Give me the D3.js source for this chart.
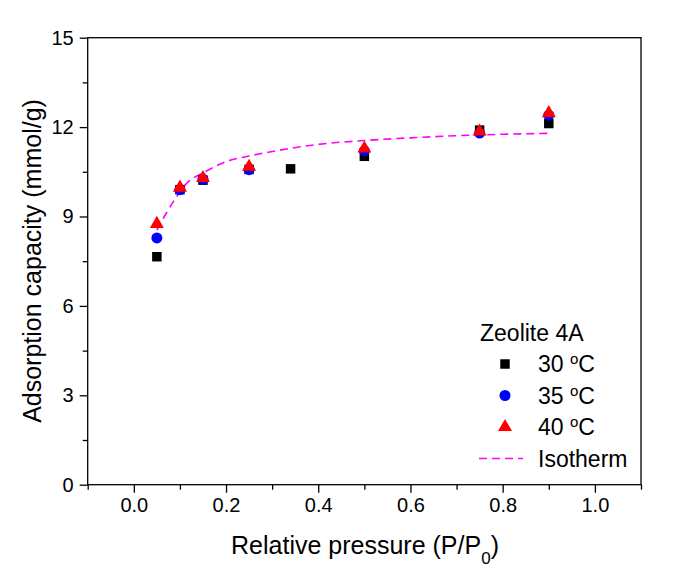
<!DOCTYPE html>
<html><head><meta charset="utf-8">
<script src="https://cdn.jsdelivr.net/npm/d3@7"></script>
<style>body{margin:0;background:#fff}svg{display:block}text{font-family:"Liberation Sans",Arial,sans-serif;fill:#000}</style>
</head><body><svg id="c" width="678" height="584"></svg>
<script>
const pressure30 = [0.05, 0.10, 0.15, 0.25, 0.34, 0.50, 0.75, 0.90];
const capacity30 = [7.65, 9.90, 10.22, 10.58, 10.60, 11.02, 11.90, 12.12];
const pressure35 = [0.05, 0.10, 0.15, 0.25, 0.50, 0.75, 0.90];
const capacity35 = [8.28, 9.90, 10.25, 10.57, 11.20, 11.80, 12.40];
const pressure40 = [0.05, 0.10, 0.15, 0.25, 0.50, 0.75, 0.90];
const capacity40 = [8.75, 9.97, 10.29, 10.67, 11.28, 11.85, 12.47];
const isoPressure = [0.05, 0.07, 0.09, 0.115, 0.15, 0.20, 0.25, 0.30, 0.40, 0.50, 0.60, 0.70, 0.80, 0.90];
const isoCapacity = [8.54, 9.10, 9.60, 10.12, 10.46, 10.84, 11.03, 11.18, 11.42, 11.55, 11.64, 11.71, 11.76, 11.79];
const xTicks = [0.0, 0.2, 0.4, 0.6, 0.8, 1.0];
const xMinor = [-0.1, 0.1, 0.3, 0.5, 0.7, 0.9, 1.1];
const yTicks = [0, 3, 6, 9, 12, 15];
const yMinor = [1.5, 4.5, 7.5, 10.5, 13.5];
const legendTitle = "Zeolite 4A";
const seriesNames = ["30", "35", "40"];

const svg = d3.select("#c");
const L = 87.7, R = 641, T = 37.7, B = 484.7;
const x = d3.scaleLinear().domain([-0.1, 1.1]).range([L, R]);
const y = d3.scaleLinear().domain([0, 15]).range([B, T]);

// frame
svg.append("rect").attr("x", L).attr("y", T).attr("width", R - L).attr("height", B - T)
  .attr("fill", "none").attr("stroke", "#000").attr("stroke-width", 1.3);

// axes
const xAx = svg.append("g").attr("transform", `translate(0,${B})`)
  .call(d3.axisBottom(x).tickValues(xTicks).tickFormat(d3.format(".1f")).tickSize(8).tickPadding(5));
const xAxMinor = svg.append("g").attr("transform", `translate(0,${B})`)
  .call(d3.axisBottom(x).tickValues(xMinor).tickFormat("").tickSize(5));
const yAx = svg.append("g").attr("transform", `translate(${L},0)`)
  .call(d3.axisLeft(y).tickValues(yTicks).tickFormat(d3.format("d")).tickSize(8).tickPadding(6));
const yAxMinor = svg.append("g").attr("transform", `translate(${L},0)`)
  .call(d3.axisLeft(y).tickValues(yMinor).tickFormat("").tickSize(5));
[xAx, xAxMinor, yAx, yAxMinor].forEach(g => {
  g.select(".domain").remove();
  g.selectAll("line").attr("stroke", "#000").attr("stroke-width", 1.3);
  g.selectAll("text").style("font-family", '"Liberation Sans",Arial,sans-serif').style("font-size", "20px").attr("fill", "#000");
});

// isotherm
const line = d3.line().x((d, i) => x(isoPressure[i])).y(d => y(d)).curve(d3.curveMonotoneX);
svg.append("path").attr("d", line(isoCapacity)).attr("fill", "none")
  .attr("stroke", "#ff00ff").attr("stroke-width", 1.6).attr("stroke-dasharray", "8,5");

const sq = d3.symbol().type(d3.symbolSquare).size(90);
const ci = d3.symbol().type(d3.symbolCircle).size(95);
const tr = d3.symbol().type(d3.symbolTriangle).size(85);

function pts(px, py, sym, col) {
  svg.append("g").selectAll("path").data(py).join("path")
    .attr("transform", (d, i) => `translate(${x(px[i])},${y(d)})`)
    .attr("d", sym()).attr("fill", col);
}
pts(pressure30, capacity30, sq, "#000");
pts(pressure35, capacity35, ci, "#0000ff");
pts(pressure40, capacity40, tr, "#ff0000");

// axis titles
const xt = svg.append("text").attr("x", 365).attr("y", 554).attr("text-anchor", "middle").style("font-size", "25px");
xt.append("tspan").text("Relative pressure (P/P");
xt.append("tspan").attr("baseline-shift", "sub").style("font-size", "17px").text("0");
xt.append("tspan").text(")");

svg.append("text").attr("transform", "translate(41,261) rotate(-90)").attr("text-anchor", "middle")
  .style("font-size", "25px").text("Adsorption capacity (mmol/g)");

// legend
const lg = svg.append("g");
lg.append("text").attr("x", 480).attr("y", 341).style("font-size", "23px").text(legendTitle);
const syms = [sq, ci, tr], cols = ["#000", "#0000ff", "#ff0000"];
seriesNames.forEach((n, i) => {
  const yy = 364 + i * 31.5;
  lg.append("path").attr("transform", `translate(505,${yy})`).attr("d", syms[i]()).attr("fill", cols[i]);
  const t = lg.append("text").attr("x", 538).attr("y", yy + 8).style("font-size", "23px");
  t.append("tspan").text(n + " ");
  t.append("tspan").attr("baseline-shift", "super").style("font-size", "15px").text("o");
  t.append("tspan").text("C");
});
const yi = 364 + 3 * 31.5;
lg.append("line").attr("x1", 479).attr("x2", 523).attr("y1", yi).attr("y2", yi)
  .attr("stroke", "#ff00ff").attr("stroke-width", 1.6).attr("stroke-dasharray", "8,5");
lg.append("text").attr("x", 538).attr("y", yi + 8).style("font-size", "23px").text("Isotherm");
</script></body></html>
